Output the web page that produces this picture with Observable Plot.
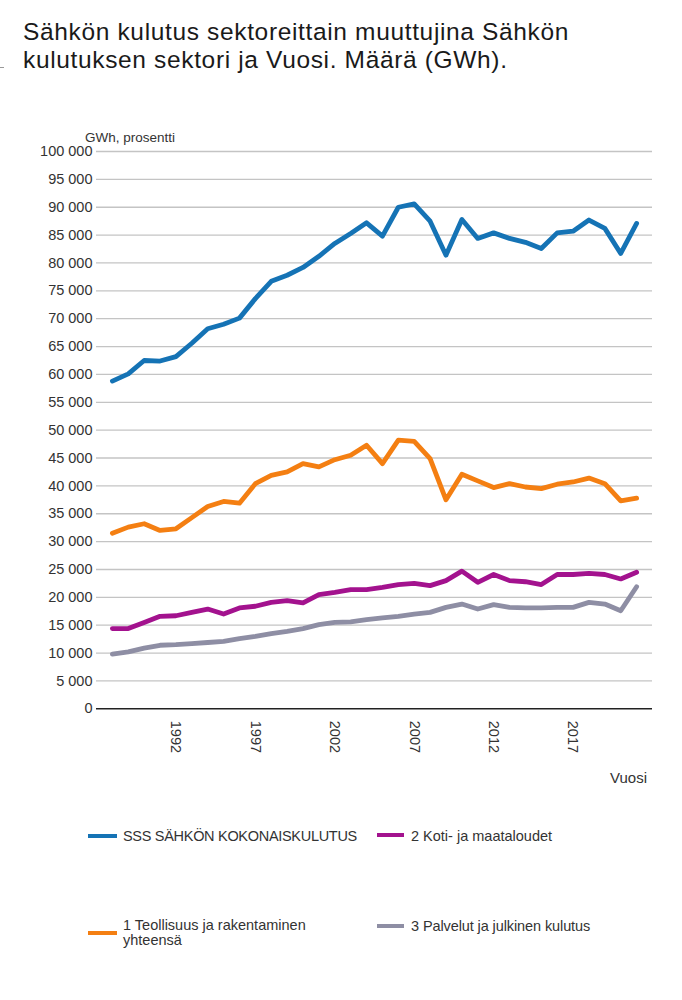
<!DOCTYPE html>
<html>
<head>
<meta charset="utf-8">
<script src="https://cdn.jsdelivr.net/npm/d3@7"></script>
<script src="https://cdn.jsdelivr.net/npm/@observablehq/plot@0.6"></script>
<style>
  body { margin: 0; background: #fff; font-family: "Liberation Sans", Arial, sans-serif; }
  #page { position: relative; width: 682px; height: 1000px; overflow: hidden; background: #fff; }
  .title { position: absolute; left: 23px; font-size: 24.5px; letter-spacing: 0.65px; line-height: 27.5px; height: 27.5px; color: #1a1a1a; white-space: nowrap; }
  #chart { position: absolute; left: 0; top: 120px; }
  .lab { position: absolute; color: #333; white-space: nowrap; }
  .sw { position: absolute; height: 4px; }
  .leg { position: absolute; font-size: 14.5px; line-height: 15px; color: #333; white-space: nowrap; }
  .edge { position: absolute; left: 0; width: 4px; height: 1px; background: #999; }
</style>
</head>
<body>
<div id="page">
  <div class="edge" style="top:67px"></div>
  <div class="edge" style="top:137px"></div>
  <div class="edge" style="top:208px"></div>
  <div class="title" style="top:18.3px">Sähkön kulutus sektoreittain muuttujina Sähkön</div>
  <div class="title" style="top:45.8px">kulutuksen sektori ja Vuosi. Määrä (GWh).</div>
  <div id="chart"></div>
  <div class="lab" style="left:85px; top:130px; font-size:13.5px; line-height:15px;">GWh, prosentti</div>
  <div class="lab" style="right:35px; top:769px; font-size:15px; line-height:17px;">Vuosi</div>
  <div id="legend"></div>
</div>
<script>
// Data (GWh)
const years = [1988, 1989, 1990, 1991, 1992, 1993, 1994, 1995, 1996, 1997, 1998, 1999, 2000, 2001, 2002, 2003, 2004, 2005, 2006, 2007, 2008, 2009, 2010, 2011, 2012, 2013, 2014, 2015, 2016, 2017, 2018, 2019, 2020, 2021];
const seriesNames = ["SSS SÄHKÖN KOKONAISKULUTUS", "1 Teollisuus ja rakentaminen yhteensä", "2 Koti- ja maataloudet", "3 Palvelut ja julkinen kulutus"];
const totalValues = [58800, 60100, 62500, 62400, 63200, 65600, 68200, 69000, 70100, 73600, 76700, 77800, 79200, 81200, 83500, 85300, 87200, 84800, 90000, 90600, 87500, 81400, 87800, 84400, 85400, 84400, 83700, 82600, 85400, 85700, 87700, 86200, 81700, 87100];
const industryValues = [31500, 32600, 33200, 32000, 32300, 34300, 36300, 37200, 36900, 40400, 41900, 42500, 44000, 43400, 44700, 45500, 47300, 44000, 48200, 48000, 44900, 37500, 42100, 40900, 39700, 40400, 39800, 39500, 40300, 40700, 41400, 40400, 37300, 37800];
const householdValues = [14400, 14400, 15500, 16600, 16700, 17300, 17900, 17000, 18100, 18400, 19100, 19400, 19000, 20500, 20900, 21400, 21400, 21800, 22300, 22500, 22100, 23000, 24700, 22700, 24100, 23000, 22800, 22300, 24100, 24100, 24300, 24100, 23300, 24500];
const serviceValues = [9800, 10200, 10900, 11400, 11500, 11700, 11900, 12100, 12600, 13000, 13500, 13900, 14400, 15100, 15500, 15600, 16000, 16300, 16600, 17000, 17300, 18200, 18800, 17900, 18700, 18200, 18100, 18100, 18200, 18200, 19100, 18800, 17600, 21900];
const colors = ["#1573b5", "#f47f12", "#a3128e", "#8e8ea4"];
const xTicks = [1992, 1997, 2002, 2007, 2012, 2017];
const yTicks = [0, 5000, 10000, 15000, 20000, 25000, 30000, 35000, 40000, 45000, 50000, 55000, 60000, 65000, 70000, 75000, 80000, 85000, 90000, 95000, 100000];

const allSeries = [totalValues, industryValues, householdValues, serviceValues];
const rows = [];
allSeries.forEach((vals, i) => vals.forEach((v, j) => rows.push({series: seriesNames[i], year: years[j], value: v})));

const fmt = d => d3.format(",")(d).replace(/,/g, " ");

const chart = Plot.plot({
  width: 682,
  height: 680,
  marginLeft: 96,
  marginRight: 30,
  marginTop: 31,
  marginBottom: 91.7,
  style: { fontFamily: "Liberation Sans, Arial, sans-serif", fontSize: "14.5px", color: "#333", background: "#fff" },
  x: { domain: [1987, 2022], ticks: xTicks, tickFormat: d => String(d), tickSize: 0, tickPadding: 12, tickRotate: 90, label: null },
  y: { domain: [0, 100000], ticks: yTicks, tickFormat: fmt, tickSize: 0, tickPadding: 4, label: null },
  color: { domain: seriesNames, range: colors },
  marks: [
    Plot.ruleY(yTicks.filter(d => d > 0), { stroke: "#c4c4c4", strokeWidth: 1.3 }),
    Plot.ruleY([0], { stroke: "#222", strokeWidth: 1.5 }),
    Plot.line(rows, { x: "year", y: "value", z: "series", stroke: "series", strokeWidth: 4.8, strokeLinejoin: "round", strokeLinecap: "round" })
  ]
});
document.getElementById("chart").appendChild(chart);

// Legend
const legendPos = [
  { sw: [88, 834, 29], tx: [123, 829], ls: "-0.3px", lines: ["SSS SÄHKÖN KOKONAISKULUTUS"] },
  { sw: [88, 931, 29], tx: [123, 918], ls: "0px", lines: ["1 Teollisuus ja rakentaminen", "yhteensä"] },
  { sw: [377, 833, 27], tx: [411, 829], ls: "0px", lines: ["2 Koti- ja maataloudet"] },
  { sw: [377, 924, 27], tx: [411, 919], ls: "-0.1px", lines: ["3 Palvelut ja julkinen kulutus"] }
];
const legend = document.getElementById("legend");
legendPos.forEach((p, i) => {
  const s = document.createElement("div");
  s.className = "sw";
  s.style.left = p.sw[0] + "px"; s.style.top = p.sw[1] + "px"; s.style.width = p.sw[2] + "px";
  s.style.background = colors[i];
  legend.appendChild(s);
  const t = document.createElement("div");
  t.className = "leg";
  t.style.left = p.tx[0] + "px"; t.style.top = p.tx[1] + "px";
  t.style.letterSpacing = p.ls;
  t.innerHTML = p.lines.join("<br>");
  legend.appendChild(t);
});
</script>
</body>
</html>
